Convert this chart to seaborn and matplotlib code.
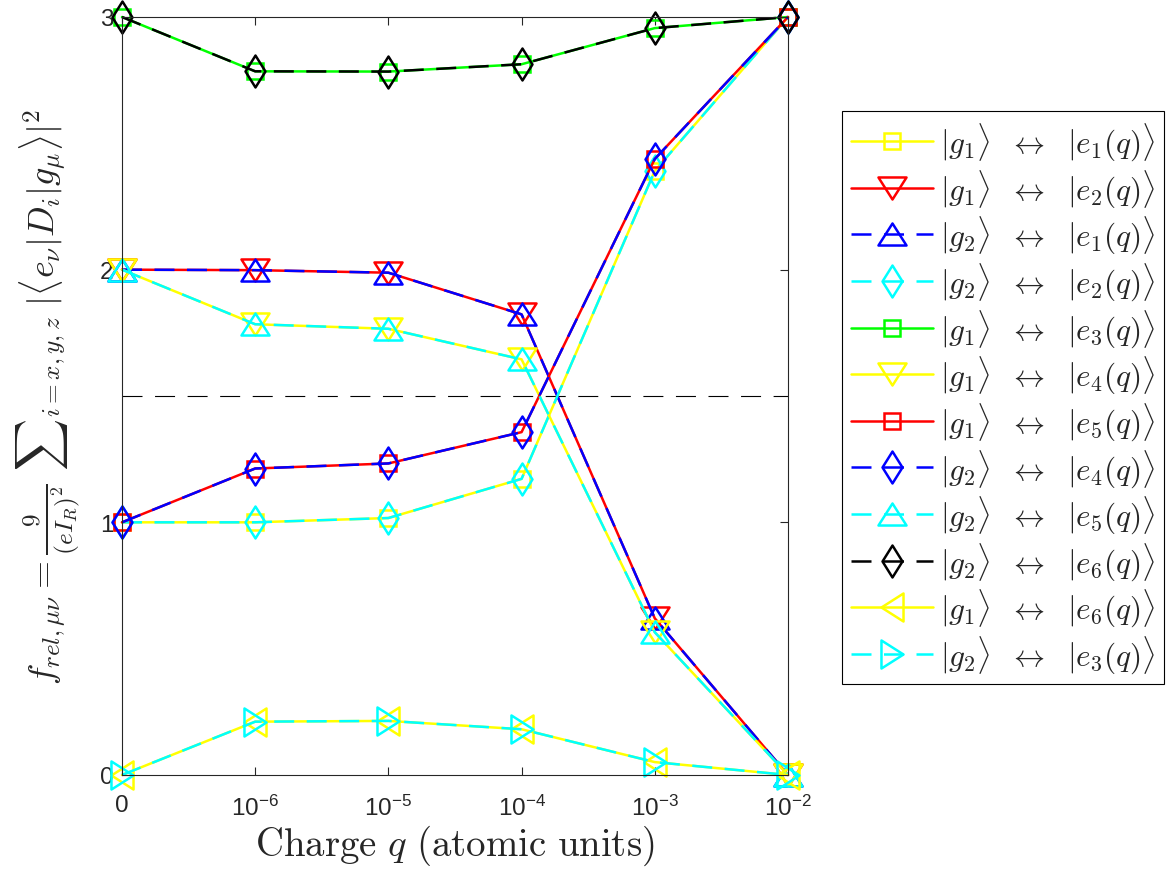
import numpy as np
import pandas as pd
import matplotlib
matplotlib.use("Agg")
import matplotlib.pyplot as plt
from matplotlib.path import Path
import seaborn as sns

# ---------------- data ----------------
q_labels = ["0", r"$10^{-6}$", r"$10^{-5}$", r"$10^{-4}$", r"$10^{-3}$", r"$10^{-2}$"]

g1e1 = [1.000, 1.000, 1.017, 1.172, 2.391, 3.000]
g1e2 = [2.000, 1.998, 1.988, 1.823, 0.620, 0.000]
g2e1 = [2.000, 1.998, 1.988, 1.823, 0.620, 0.000]
g2e2 = [1.000, 1.000, 1.017, 1.172, 2.391, 3.000]
g1e3 = [3.000, 2.785, 2.784, 2.813, 2.956, 3.000]
g1e4 = [2.000, 1.784, 1.766, 1.645, 0.565, 0.000]
g1e5 = [1.000, 1.213, 1.233, 1.357, 2.438, 3.000]
g2e4 = [1.000, 1.213, 1.233, 1.357, 2.438, 3.000]
g2e5 = [2.000, 1.784, 1.766, 1.645, 0.565, 0.000]
g2e6 = [3.000, 2.785, 2.784, 2.813, 2.956, 3.000]
g1e6 = [0.000, 0.211, 0.214, 0.181, 0.051, 0.000]
g2e3 = [0.000, 0.211, 0.214, 0.181, 0.051, 0.000]

series_names = ["g1e1", "g1e2", "g2e1", "g2e2", "g1e3", "g1e4",
                "g1e5", "g2e4", "g2e5", "g2e6", "g1e6", "g2e3"]
series_values = [g1e1, g1e2, g2e1, g2e2, g1e3, g1e4,
                 g1e5, g2e4, g2e5, g2e6, g1e6, g2e3]
series_labels = [
    r"$|g_1\rangle\ \;\leftrightarrow\ \;|e_1(q)\rangle$",
    r"$|g_1\rangle\ \;\leftrightarrow\ \;|e_2(q)\rangle$",
    r"$|g_2\rangle\ \;\leftrightarrow\ \;|e_1(q)\rangle$",
    r"$|g_2\rangle\ \;\leftrightarrow\ \;|e_2(q)\rangle$",
    r"$|g_1\rangle\ \;\leftrightarrow\ \;|e_3(q)\rangle$",
    r"$|g_1\rangle\ \;\leftrightarrow\ \;|e_4(q)\rangle$",
    r"$|g_1\rangle\ \;\leftrightarrow\ \;|e_5(q)\rangle$",
    r"$|g_2\rangle\ \;\leftrightarrow\ \;|e_4(q)\rangle$",
    r"$|g_2\rangle\ \;\leftrightarrow\ \;|e_5(q)\rangle$",
    r"$|g_2\rangle\ \;\leftrightarrow\ \;|e_6(q)\rangle$",
    r"$|g_1\rangle\ \;\leftrightarrow\ \;|e_6(q)\rangle$",
    r"$|g_2\rangle\ \;\leftrightarrow\ \;|e_3(q)\rangle$",
]
series_colors = ["#FFFF00", "#FF0000", "#0000FF", "#00FFFF", "#00FF00", "#FFFF00",
                 "#FF0000", "#0000FF", "#00FFFF", "#000000", "#FFFF00", "#00FFFF"]
series_markers = ["square", "down", "up", "diamond", "square", "down",
                  "square", "diamond", "up", "diamond", "left", "right"]
series_dashed = [False, False, True, True, False, False,
                 False, True, True, True, False, True]

# ---------------- style ----------------
sns.set_style("white")
plt.rcParams["font.family"] = ["Liberation Sans", "DejaVu Sans"]
plt.rcParams["mathtext.fontset"] = "cm"
plt.rcParams["mathtext.rm"] = "Liberation Sans"
plt.rcParams["mathtext.it"] = "Liberation Sans:italic"
plt.rcParams["mathtext.bf"] = "Liberation Sans:bold"


def closed(verts):
    v = list(verts) + [verts[0]]
    return Path(v, closed=True)


marker_defs = {
    "square": ("s", 12.2),
    "up": (closed([(0, 11), (-14, -11), (14, -11)]), 20.2),
    "down": (closed([(0, -11), (-14, 11), (14, 11)]), 20.2),
    "left": (closed([(-11, 0), (11, 14), (11, -14)]), 20.2),
    "right": (closed([(11, 0), (-11, 14), (-11, -14)]), 20.2),
    "diamond": (closed([(0, 16), (10, 0), (0, -16), (-10, 0)]), 23.0),
}

fig = plt.figure(figsize=(11.66, 8.78), dpi=100)
ax = fig.add_axes([0.1046, 0.1162, 0.5712, 0.8633])

# reference dashed line at 1.5
ax.axhline(1.5, color="black", lw=0.8, linestyle=(0, (18.0, 11.3)), zorder=1)

lw = 1.8
for name, vals, lab, col, mk, dashed in zip(series_names, series_values, series_labels,
                                            series_colors, series_markers, series_dashed):
    df = pd.DataFrame({"q": np.arange(len(q_labels)), "f": vals})
    m, ms = marker_defs[mk]
    ls = (0, (8.0, 5.0)) if dashed else "-"
    sns.lineplot(data=df, x="q", y="f", ax=ax, color=col, linewidth=lw,
                 linestyle=ls, marker=m, markersize=ms, markerfacecolor="none",
                 markeredgecolor=col, markeredgewidth=1.8, label=lab,
                 clip_on=False, sort=False, errorbar=None, legend=False)

ax.set_xlim(0, len(q_labels) - 1)
ax.set_ylim(0, 3)
ax.set_xticks(np.arange(len(q_labels)))
ax.set_xticklabels(q_labels, math_fontfamily="custom")
ax.set_yticks([0, 1, 2, 3])
ax.set_yticklabels(["0", "1", "2", "3"])

for s in ax.spines.values():
    s.set_visible(True)
    s.set_color("#262626")
    s.set_linewidth(0.8)

ax.tick_params(axis="both", which="both", direction="in", length=5.5, width=0.8,
               color="#262626", labelsize=17.5, labelcolor="#262626",
               top=True, right=True, bottom=True, left=True)
ax.tick_params(axis="x", pad=14)
ax.tick_params(axis="y", pad=6)

ax.set_xlabel(r"$\mathrm{Charge}\ q\ \mathrm{(atomic\ units)}$", fontsize=28,
              math_fontfamily="cm", labelpad=2)
ax.set_ylabel(r"$f_{rel,\mu\nu} = \frac{9}{(eI_R)^2}\ {\sum}_{i=x,y,z}\ |\langle e_\nu|D_i|g_\mu\rangle|^2$",
              fontsize=26, math_fontfamily="cm", labelpad=12)

handles, labels = ax.get_legend_handles_labels()
leg = fig.legend(handles, labels, loc="upper left",
                 bbox_to_anchor=(842 / 1166, 1 - 112 / 878), borderaxespad=0,
                 fontsize=22.5, frameon=True, fancybox=False, shadow=False,
                 framealpha=1, edgecolor="black", handlelength=2.62,
                 handletextpad=0.22, labelspacing=0.15, borderpad=0.3, numpoints=1)
leg.get_frame().set_linewidth(0.8)

fig.savefig("out.png", dpi=100)
